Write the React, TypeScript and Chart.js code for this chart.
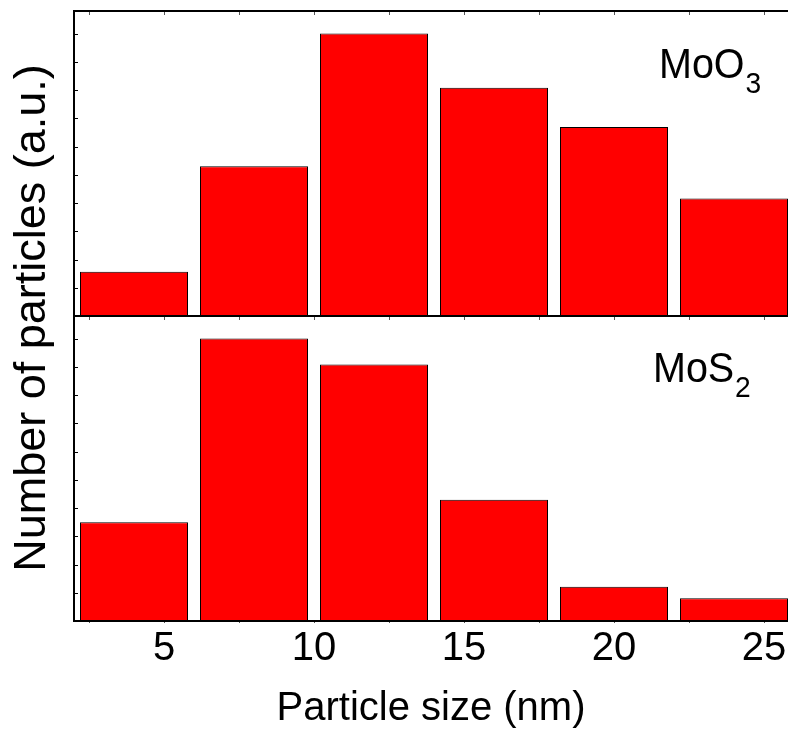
import React, { useEffect, useRef } from "react";
import { Chart, registerables } from "chart.js";

Chart.register(...registerables);

// Bin centres (nm) and relative counts (a.u.)
const binCenters = [4, 8, 12, 16, 20, 24];
const moo3Counts = [1.57, 5.3, 10.0, 8.08, 6.69, 4.16];
const mos2Counts = [3.5, 10.0, 9.08, 4.29, 1.21, 0.81];
const xTickStep = 5;
const xMinorStep = 2.5;
const yMinorStep = 1;
const xLabel = "Particle size (nm)";
const yLabel = "Number of particles (a.u.)";
const panelLabels = [
  { main: "MoO", sub: "3" },
  { main: "MoS", sub: "2" },
];

const FONT = "'Liberation Sans', Arial, Helvetica, sans-serif";

const framePlugin = {
  id: "frame",
  afterDatasetsDraw(chart: any) {
    const { ctx, chartArea } = chart;
    const xs = chart.scales.x;
    const yTop = chart.scales.yTop;
    const L = chartArea.left;
    const R = chartArea.right;
    const T = chartArea.top;
    const B = chartArea.bottom;
    const M = yTop.bottom;
    ctx.save();
    ctx.strokeStyle = "#000";
    // minor y ticks
    ctx.lineWidth = 1;
    [chart.scales.yTop, chart.scales.yBot].forEach((s: any) => {
      for (let v = yMinorStep; v < s.max; v += yMinorStep) {
        const p = Math.round(s.getPixelForValue(v)) + 0.5;
        ctx.beginPath();
        ctx.moveTo(L, p);
        ctx.lineTo(L + 4, p);
        ctx.stroke();
      }
    });
    // minor x ticks
    ctx.strokeStyle = "#555";
    for (let v = Math.ceil(xs.min / xMinorStep) * xMinorStep; v <= xs.max; v += xMinorStep) {
      const p = Math.round(xs.getPixelForValue(v)) + 0.5;
      ctx.beginPath();
      ctx.moveTo(p, T);
      ctx.lineTo(p, T + 4);
      ctx.moveTo(p, M);
      ctx.lineTo(p, M + 4);
      ctx.moveTo(p, B);
      ctx.lineTo(p, B + 2);
      ctx.stroke();
    }
    // frame lines
    ctx.strokeStyle = "#000";
    ctx.lineWidth = 2;
    ctx.beginPath();
    ctx.moveTo(L, T);
    ctx.lineTo(R, T);
    ctx.moveTo(L, M);
    ctx.lineTo(R, M);
    ctx.moveTo(L - 1, B);
    ctx.lineTo(R, B);
    ctx.moveTo(L, T - 1);
    ctx.lineTo(L, B + 1);
    ctx.stroke();

    // y title
    ctx.fillStyle = "#000";
    ctx.save();
    ctx.translate(45, (T + B) / 2 + 2);
    ctx.rotate(-Math.PI / 2);
    ctx.font = `45px ${FONT}`;
    ctx.textAlign = "center";
    ctx.textBaseline = "alphabetic";
    ctx.fillText(yLabel, 0, 0);
    ctx.restore();

    // panel labels
    const drawLabel = (lab: { main: string; sub: string }, x: number, y: number) => {
      ctx.save();
      ctx.translate(x, y);
      ctx.scale(0.94, 1);
      ctx.font = `42px ${FONT}`;
      ctx.textAlign = "left";
      ctx.textBaseline = "alphabetic";
      ctx.fillText(lab.main, 0, 0);
      const w = ctx.measureText(lab.main).width;
      ctx.font = `30px ${FONT}`;
      ctx.fillText(lab.sub, w + 1, 15);
      ctx.restore();
    };
    drawLabel(panelLabels[0], 659, 78);
    drawLabel(panelLabels[1], 653, 382);
    ctx.restore();
  },
};

export default function App() {
  const ref = useRef<HTMLCanvasElement>(null);
  useEffect(() => {
    if (!ref.current) return;
    const chart = new Chart(ref.current, {
      type: "bar",
      data: {
        datasets: [
          {
            label: "MoS2",
            data: binCenters.map((x, i) => ({ x, y: mos2Counts[i] })),
            yAxisID: "yBot",
            backgroundColor: "#ff0000",
            borderColor: "#000000",
            borderWidth: 1,
            grouped: false,
            categoryPercentage: 1,
            barPercentage: 0.9,
          },
          {
            label: "MoO3",
            data: binCenters.map((x, i) => ({ x, y: moo3Counts[i] })),
            yAxisID: "yTop",
            backgroundColor: "#ff0000",
            borderColor: "#000000",
            borderWidth: 1,
            grouped: false,
            categoryPercentage: 1,
            barPercentage: 0.9,
          },
        ],
      },
      options: {
        responsive: false,
        animation: false,
        layout: { padding: { left: 74, top: 11, right: 0, bottom: 0 } },
        plugins: { legend: { display: false }, tooltip: { enabled: false } },
        scales: {
          x: {
            type: "linear",
            min: 2,
            max: 25.8,
            offset: false,
            grid: { display: false, drawTicks: false, offset: false },
            border: { display: false },
            afterFit: (s: any) => {
              s.paddingRight = 0;
              s.paddingLeft = 0;
            },
            ticks: {
              stepSize: xTickStep,
              includeBounds: false,
              color: "#000",
              padding: 4,
              font: { family: FONT, size: 40 },
            },
            title: {
              display: true,
              text: xLabel,
              color: "#000",
              font: { family: FONT, size: 40 },
              padding: { top: 8, bottom: 0 },
            },
          },
          yBot: {
            type: "linear",
            position: "left",
            stack: "panels",
            stackWeight: 1,
            min: 0,
            max: 10.8,
            grid: { display: false, drawTicks: false },
            border: { display: false },
            ticks: { display: false },
          },
          yTop: {
            type: "linear",
            position: "left",
            stack: "panels",
            stackWeight: 1,
            min: 0,
            max: 10.8,
            grid: { display: false, drawTicks: false },
            border: { display: false },
            ticks: { display: false },
          },
        },
      },
      plugins: [framePlugin],
    } as any);
    return () => chart.destroy();
  }, []);
  return (
    <div style={{ position: "absolute", left: 0, top: 0, width: 788, height: 733, background: "#fff" }}>
      <canvas ref={ref} width={788} height={733} style={{ display: "block" }} />
    </div>
  );
}
